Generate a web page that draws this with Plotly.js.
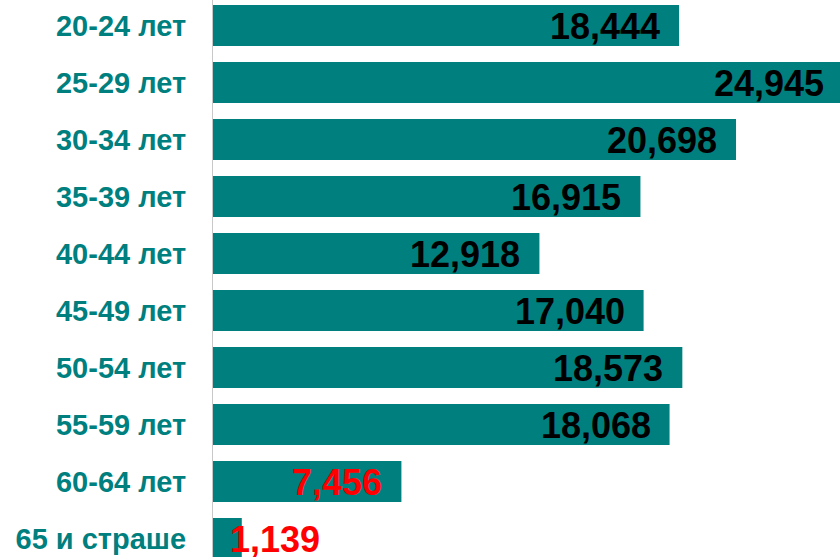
<!DOCTYPE html>
<html><head><meta charset="utf-8">
<script src="https://cdn.plot.ly/plotly-3.0.1.min.js"></script>
<style>html,body{margin:0;padding:0;overflow:hidden;background:#fff}</style>
</head><body>
<div id="chart" style="width:850px;height:557px"></div>
<script>
var categories = ["20-24 лет","25-29 лет","30-34 лет","35-39 лет","40-44 лет","45-49 лет","50-54 лет","55-59 лет","60-64 лет","65 и страше"];
var values = [18444, 24945, 20698, 16915, 12918, 17040, 18573, 18068, 7456, 1139];

var teal = '#007F7F';
var fontFam = '"Liberation Sans", Arial, sans-serif';

var trace = {
  type: 'bar', orientation: 'h',
  x: values, y: categories,
  marker: {color: teal},
  hoverinfo: 'none'
};

var annotations = values.map(function(v, i){
  var small = v < 3000;
  return {
    x: v, y: categories[i], xref: 'x', yref: 'y',
    text: v.toLocaleString('en-US'),
    showarrow: false,
    xanchor: small ? 'left' : 'right',
    xshift: small ? -14 : -17,
    yshift: -1,
    font: {family: fontFam, size: 36, weight: 'bold', color: v < 10000 ? '#FF0000' : '#000000'}
  };
});

var layout = {
  width: 850, height: 557,
  margin: {l: 213, r: 0, t: 0, b: 0, pad: 0},
  paper_bgcolor: '#fff', plot_bgcolor: '#fff',
  bargap: 0.28,
  showlegend: false,
  xaxis: {range: [0, 25208], showgrid: false, zeroline: false, showticklabels: false, showline: false, fixedrange: true},
  yaxis: {type: 'category', range: [9.325, -0.447], showgrid: false, zeroline: false,
          showline: true, linecolor: '#C8C8C8', linewidth: 1,
          ticks: '', ticklabelstandoff: 20,
          tickfont: {family: fontFam, size: 29, weight: 'bold', color: teal}},
  annotations: annotations
};

Plotly.newPlot('chart', [trace], layout, {displayModeBar: false, staticPlot: true});
</script>
</body></html>
